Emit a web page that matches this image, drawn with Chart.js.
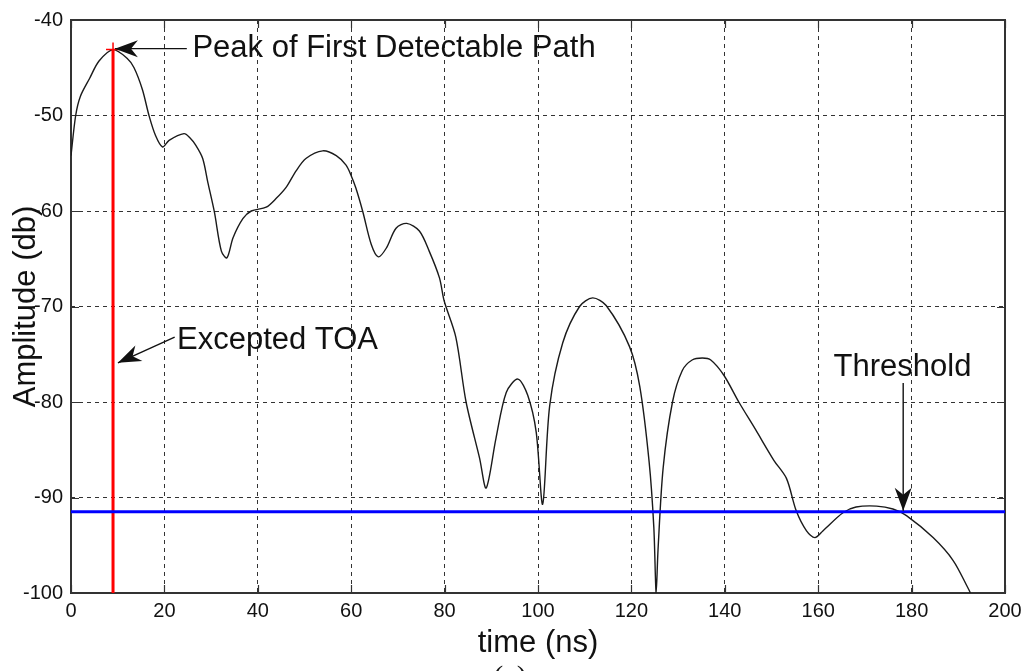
<!DOCTYPE html>
<html>
<head>
<meta charset="utf-8">
<title>First detectable path</title>
<script src="https://cdn.jsdelivr.net/npm/chart.js@4.4.1/dist/chart.umd.min.js"></script>
<style>
  html, body { margin: 0; padding: 0; background: #fff; }
  #wrap { width: 1030px; height: 671px; }
</style>
</head>
<body>
<div id="wrap"><canvas id="cir" width="1030" height="671"></canvas></div>
<script>
// channel response: time (ns) vs amplitude (dB)
const timeNs = [0, 1, 2, 4, 6, 9, 12, 13.5, 15.3, 16.7, 18.1, 19.6, 21, 24.2, 25.4,
  26.7, 28.2, 29.3, 30.7, 32.2, 33.4, 34.7, 36.8, 38.6, 41.8, 43.9, 46.1, 48.2, 50.3, 53.9,
  56.8, 58.9, 60, 61, 62.5, 64.3, 65.8, 67.5, 69.6, 71.9, 74.6, 76.7, 78.9, 79.9, 82.4,
  84.6, 87.5, 88.9, 91, 93.2, 95.7, 97.8, 99.6, 101, 102.5, 105.3, 108.9, 111.7, 114.6, 119.6,
  121.8, 123.8, 124.8, 125.3, 125.7, 126.8, 128.8, 130.9, 133, 135.2, 137, 139.8, 143, 146.6, 150.5,
  153.2, 155.3, 157.5, 159.3, 161, 165.3, 168.1, 172.5, 176, 178.9, 184.6, 188.9, 192.1, 192.6];
const ampDb = [-54.2, -50, -48, -46.1, -44.3, -43.1, -44, -45, -47.3, -50, -52.1, -53.3, -52.6, -51.9, -52.3,
  -53.1, -54.5, -57, -60.1, -64.2, -64.9, -62.8, -60.8, -60, -59.6, -58.7, -57.5, -55.8, -54.5, -53.7,
  -54.2, -55.2, -56.3, -57.6, -60.1, -63.5, -64.8, -63.9, -61.8, -61.3, -62.1, -64.2, -67, -69.4, -73.2,
  -80, -85.9, -89, -83.8, -79, -77.6, -79.3, -83.1, -90.7, -80.4, -73.8, -70, -69.1, -69.9, -74.2,
  -78.4, -86.3, -93.1, -100, -95.5, -86.9, -80, -76.7, -75.6, -75.4, -75.6, -77.2, -80, -82.9, -86.1,
  -88, -91.4, -93.5, -94.2, -93.5, -91.6, -91, -90.9, -91.2, -91.9, -94.2, -96.6, -99.5, -100];

// expected time of arrival and detection threshold
const toaNs = 9;
const peakDb = -43.1;
const thresholdDb = -91.5;

const xRange = [0, 200];
const yRange = [-100, -40];
const xStep = 20;
const yStep = 10;

// text labels with arrows, all in data units
const notes = [
  { text: 'Peak of First Detectable Path', at: [26.0, -43.83], tail: [24.8, -43.0], tip: [9.4, -43.0] },
  { text: 'Excepted TOA', at: [22.7, -74.4], tail: [22.2, -73.2], tip: [10.05, -75.9] },
  { text: 'Threshold', at: [163.3, -77.27], tail: [178.2, -78.0], tip: [178.2, -91.4] }
];

const FONT = "'Liberation Sans', Arial, sans-serif";
const INK = '#111';

function arrowHead(ctx, tx, ty, fx, fy, len, half) {
    const a = Math.atan2(ty - fy, tx - fx);
    ctx.save();
    ctx.translate(tx, ty);
    ctx.rotate(a);
    ctx.beginPath();
    ctx.moveTo(0, 0);
    ctx.lineTo(-len, -half);
    ctx.lineTo(-len * 0.7, 0);
    ctx.lineTo(-len, half);
    ctx.closePath();
    ctx.fill();
    ctx.restore();
}

// box round the plot with inward tick marks on all four sides
const framePlugin = {
    id: 'frame',
    beforeDatasetsDraw(chart) {
        const { ctx, chartArea: a, scales: { x, y } } = chart;
        ctx.save();
        ctx.strokeStyle = '#333';
        ctx.lineWidth = 1.2;
        ctx.beginPath();
        x.ticks.forEach(t => {
            const px = Math.round(x.getPixelForValue(t.value)) + 0.5;
            ctx.moveTo(px, a.bottom); ctx.lineTo(px, a.bottom - 8);
            ctx.moveTo(px, a.top); ctx.lineTo(px, a.top + 8);
        });
        y.ticks.forEach(t => {
            const py = Math.round(y.getPixelForValue(t.value)) + 0.5;
            ctx.moveTo(a.left, py); ctx.lineTo(a.left + 8, py);
            ctx.moveTo(a.right, py); ctx.lineTo(a.right - 8, py);
        });
        ctx.stroke();
        ctx.lineWidth = 2;
        ctx.strokeRect(a.left, a.top, a.right - a.left, a.bottom - a.top);
        ctx.restore();
    }
};

const notePlugin = {
    id: 'notes',
    afterDatasetsDraw(chart) {
        const { ctx, scales: { x, y } } = chart;
        ctx.save();
        ctx.fillStyle = INK;
        ctx.strokeStyle = INK;
        ctx.lineWidth = 1.4;
        ctx.font = '31px ' + FONT;
        ctx.textBaseline = 'alphabetic';
        notes.forEach(n => {
            const tx = x.getPixelForValue(n.tip[0]), ty = y.getPixelForValue(n.tip[1]);
            const fx = x.getPixelForValue(n.tail[0]), fy = y.getPixelForValue(n.tail[1]);
            ctx.beginPath();
            ctx.moveTo(fx, fy);
            ctx.lineTo(tx, ty);
            ctx.stroke();
            arrowHead(ctx, tx, ty, fx, fy, 23, 8.5);
            ctx.fillText(n.text, x.getPixelForValue(n.at[0]), y.getPixelForValue(n.at[1]));
        });
        // sub-figure caption, cut by the bottom edge
        ctx.font = '30px "Liberation Serif", "Times New Roman", serif';
        ctx.textAlign = 'center';
        ctx.fillText('(a)', 510, 686);
        ctx.restore();
    }
};

new Chart(document.getElementById('cir'), {
    type: 'scatter',
    data: {
        datasets: [
            {
                label: 'threshold',
                data: [{ x: xRange[0], y: thresholdDb }, { x: xRange[1], y: thresholdDb }],
                showLine: true,
                borderColor: '#0000ff',
                borderWidth: 3,
                pointRadius: 0,
                order: 0
            },
            {
                label: 'TOA',
                data: [{ x: toaNs, y: peakDb }, { x: toaNs, y: yRange[0] }],
                showLine: true,
                borderColor: '#ff0000',
                borderWidth: 3,
                pointStyle: 'cross',
                pointRadius: [7, 0],
                pointBorderColor: '#ff0000',
                pointBorderWidth: 1.5,
                order: 1
            },
            {
                label: 'response',
                data: timeNs.map((t, i) => ({ x: t, y: ampDb[i] })),
                showLine: true,
                borderColor: '#1a1a1a',
                borderWidth: 1.4,
                pointRadius: 0,
                tension: 0.3,
                order: 2
            }
        ]
    },
    options: {
        responsive: false,
        animation: false,
        layout: { padding: { top: 13, right: 25, left: 0, bottom: 0 } },
        plugins: { legend: { display: false }, tooltip: { enabled: false } },
        scales: {
            x: {
                type: 'linear',
                min: xRange[0],
                max: xRange[1],
                afterFit: s => { s.height = 78; },
                ticks: { stepSize: xStep, padding: 6, color: INK, font: { family: FONT, size: 20 } },
                grid: { color: '#333', lineWidth: 1, drawTicks: false },
                border: { display: false, dash: [4, 4] },
                title: {
                    display: true,
                    text: 'time (ns)',
                    color: INK,
                    font: { family: FONT, size: 31 },
                    padding: { top: 0, bottom: 9 }
                }
            },
            y: {
                min: yRange[0],
                max: yRange[1],
                afterFit: s => { s.width = 71; },
                ticks: { stepSize: yStep, padding: 8, color: INK, font: { family: FONT, size: 20 } },
                grid: { color: '#333', lineWidth: 1, drawTicks: false },
                border: { display: false, dash: [4, 4] },
                title: {
                    display: true,
                    text: 'Amplitude (db)',
                    color: INK,
                    font: { family: FONT, size: 31 },
                    padding: { top: 8, bottom: 0 }
                }
            }
        }
    },
    plugins: [framePlugin, notePlugin]
});
</script>
</body>
</html>
